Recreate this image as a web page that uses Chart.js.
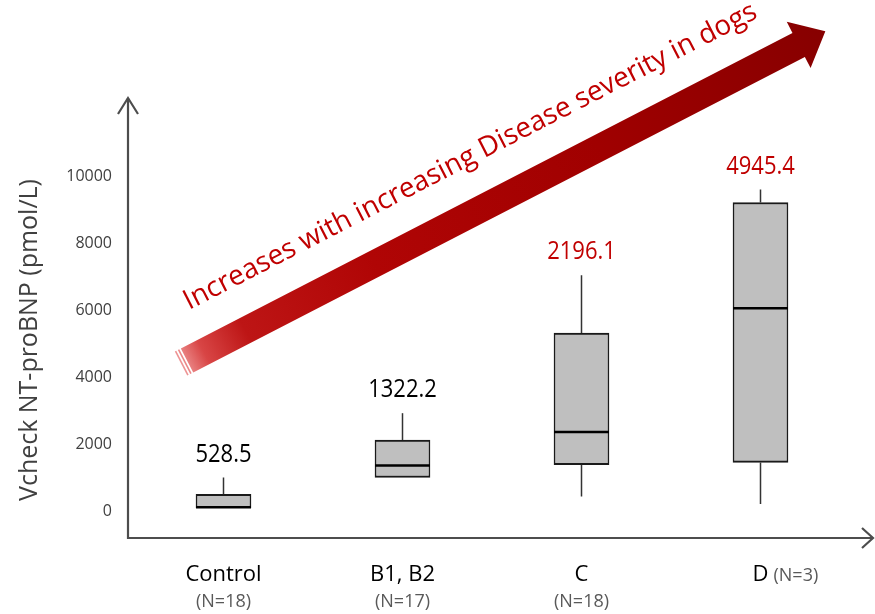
<!DOCTYPE html>
<html><head><meta charset="utf-8">
<script src="https://cdn.jsdelivr.net/npm/chart.js@4/dist/chart.umd.min.js"></script>
<style>html,body{margin:0;padding:0;background:#fff}#wrap{width:875px;height:614px}</style>
</head><body><div id="wrap"><canvas id="c" width="875" height="614"></canvas></div>
<script>
const categories = ['Control', 'B1, B2', 'C', 'D'];
const groupSizes = ['(N=18)', '(N=17)', '(N=18)', '(N=3)'];
const whiskerMin = [100, 1000, 430, 210];
const quartile1 = [100, 1000, 1380, 1450];
const medians = [110, 1360, 2360, 6050];
const quartile3 = [500, 2120, 5310, 9210];
const whiskerMax = [1000, 2920, 7040, 9600];
const meanLabels = ['528.5', '1322.2', '2196.1', '4945.4'];
const yTickValues = [0, 2000, 4000, 6000, 8000, 10000];
const yTitle = 'Vcheck NT-proBNP (pmol/L)';
const trendText = 'Increases with increasing Disease severity in dogs';

const labelColors = ['#000000', '#000000', '#c00000', '#c00000'];
const FONT = '"Open Sans", "Noto Sans", sans-serif';

function drawText(ctx, s, x, y, size, color, align, sx, weight) {
  ctx.save();
  ctx.font = (weight || 'normal') + ' ' + size + 'px ' + FONT;
  ctx.fillStyle = color;
  ctx.textAlign = align;
  ctx.textBaseline = 'middle';
  ctx.translate(x, y);
  ctx.scale(sx || 1, 1);
  ctx.fillText(s, 0, 0);
  ctx.restore();
}

const boxPlugin = {
  id: 'boxExtras',
  afterDatasetsDraw(chart) {
    const ctx = chart.ctx;
    const xs = chart.scales.x, ys = chart.scales.y;
    const meta = chart.getDatasetMeta(0);
    categories.forEach((c, i) => {
      const x = xs.getPixelForValue(i);
      const hw = meta.data[i].width / 2;
      ctx.save();
      ctx.strokeStyle = '#333333';
      ctx.lineWidth = 1.5;
      ctx.beginPath();
      if (whiskerMax[i] > quartile3[i]) {
        ctx.moveTo(x, ys.getPixelForValue(quartile3[i]));
        ctx.lineTo(x, ys.getPixelForValue(whiskerMax[i]));
      }
      if (whiskerMin[i] < quartile1[i]) {
        ctx.moveTo(x, ys.getPixelForValue(quartile1[i]));
        ctx.lineTo(x, ys.getPixelForValue(whiskerMin[i]));
      }
      ctx.stroke();
      ctx.strokeStyle = '#000000';
      ctx.lineWidth = 2.5;
      ctx.beginPath();
      const my = ys.getPixelForValue(medians[i]);
      ctx.moveTo(x - hw, my);
      ctx.lineTo(x + hw, my);
      ctx.stroke();
      ctx.restore();
      drawText(ctx, meanLabels[i], x, ys.getPixelForValue(whiskerMax[i]) - 23, 25, labelColors[i], 'center', 0.88);
    });
  },
  afterDraw(chart) {
    const ctx = chart.ctx;
    const ca = chart.chartArea;
    const xs = chart.scales.x;
    // axes with open arrowheads
    ctx.save();
    ctx.strokeStyle = '#4d4d4d';
    ctx.lineWidth = 2.2;
    ctx.lineCap = 'butt';
    const ax = ca.left - 6, ay = ca.bottom;
    ctx.beginPath();
    ctx.moveTo(ax, ay + 1);
    ctx.lineTo(ax, ca.top);
    ctx.moveTo(ax - 1, ay);
    ctx.lineTo(chart.width - 2, ay);
    ctx.stroke();
    ctx.beginPath();
    ctx.moveTo(ax - 10, ca.top + 16);
    ctx.lineTo(ax, ca.top);
    ctx.lineTo(ax + 10, ca.top + 16);
    ctx.moveTo(chart.width - 13, ay - 10);
    ctx.lineTo(chart.width - 2, ay);
    ctx.lineTo(chart.width - 13, ay + 10);
    ctx.stroke();
    ctx.restore();

    // category labels
    categories.forEach((c, i) => {
      const x = xs.getPixelForValue(i);
      if (i === categories.length - 1) {
        drawText(ctx, c, x, ay + 37, 22, '#000000', 'center', 1);
        ctx.save();
        ctx.font = '22px ' + FONT;
        const w = ctx.measureText(c).width;
        ctx.restore();
        drawText(ctx, groupSizes[i], x + w / 2 + 5, ay + 38, 18, '#595959', 'left', 1);
      } else {
        drawText(ctx, c, x, ay + 37, 22, '#000000', 'center', 1);
        drawText(ctx, groupSizes[i], x, ay + 64, 18, '#595959', 'center', 1);
      }
    });

    // y title
    ctx.save();
    ctx.translate(30, 340);
    ctx.rotate(-Math.PI / 2);
    ctx.font = '100px ' + FONT;
    const tw = ctx.measureText(yTitle).width;
    const tsize = 100 * 322 / tw;
    ctx.font = tsize + 'px ' + FONT;
    ctx.fillStyle = '#404040';
    ctx.textAlign = 'center';
    ctx.textBaseline = 'middle';
    ctx.fillText(yTitle, 0, 0);
    ctx.restore();

    // trend arrow
    const T = {x: 181, y: 363.5};
    const ang = Math.atan2(-318.5, 617.5);
    const L = 695, hw = 13.5, headW = 26, headL = 30;
    ctx.save();
    ctx.translate(T.x, T.y);
    ctx.rotate(ang);
    const g = ctx.createLinearGradient(0, 0, L + headL, 0);
    g.addColorStop(0, '#ee9595');
    g.addColorStop(0.035, '#d84545');
    g.addColorStop(0.1, '#bd1515');
    g.addColorStop(0.3, '#b00505');
    g.addColorStop(0.65, '#a00000');
    g.addColorStop(1, '#870000');
    ctx.fillStyle = g;
    // stripes
    ctx.fillRect(0, -hw, 1.6, hw * 2);
    ctx.fillRect(3.4, -hw, 1.6, hw * 2);
    ctx.beginPath();
    ctx.moveTo(6.8, -hw);
    ctx.lineTo(L, -hw);
    ctx.lineTo(L, -headW);
    ctx.lineTo(L + headL, 0);
    ctx.lineTo(L, headW);
    ctx.lineTo(L, hw);
    ctx.lineTo(6.8, hw);
    ctx.closePath();
    ctx.fill();
    ctx.restore();

    // trend text
    ctx.save();
    ctx.translate(189, 310);
    ctx.rotate(Math.atan2(-293, 570));
    ctx.font = '100px ' + FONT;
    const w2 = ctx.measureText(trendText).width;
    const s2 = 100 * 641 / w2;
    ctx.font = s2 + 'px ' + FONT;
    ctx.fillStyle = '#c00000';
    ctx.textAlign = 'left';
    ctx.textBaseline = 'alphabetic';
    ctx.fillText(trendText, 0, 0);
    ctx.restore();
  }
};

new Chart(document.getElementById('c'), {
  type: 'bar',
  data: {
    labels: categories,
    datasets: [{
      data: categories.map((c, i) => [quartile1[i], quartile3[i]]),
      backgroundColor: '#bfbfbf',
      borderColor: '#1a1a1a',
      borderWidth: {top: 2, bottom: 2, left: 1.5, right: 1.5},
      borderSkipped: false,
      barThickness: 55
    }]
  },
  options: {
    responsive: false,
    animation: false,
    devicePixelRatio: 1,
    layout: {padding: {top: 98, right: 25, left: 0, bottom: 0}},
    plugins: {legend: {display: false}, tooltip: {enabled: false}},
    scales: {
      x: {
        type: 'category',
        grid: {display: false},
        border: {display: false},
        ticks: {display: false},
        afterFit(scale) { scale.height = 76; scale.paddingLeft = 0; scale.paddingRight = 0; }
      },
      y: {
        min: -806,
        max: 12328,
        grid: {display: false, drawTicks: false},
        border: {display: false},
        ticks: {
          font: {size: 16, family: FONT},
          color: '#404040',
          padding: 22,
          callback: (v) => String(v)
        },
        afterBuildTicks(scale) { scale.ticks = yTickValues.map(v => ({value: v})); },
        afterFit(scale) { scale.width = 134; scale.paddingTop = 0; scale.paddingBottom = 0; }
      }
    }
  },
  plugins: [boxPlugin]
});
</script></body></html>
